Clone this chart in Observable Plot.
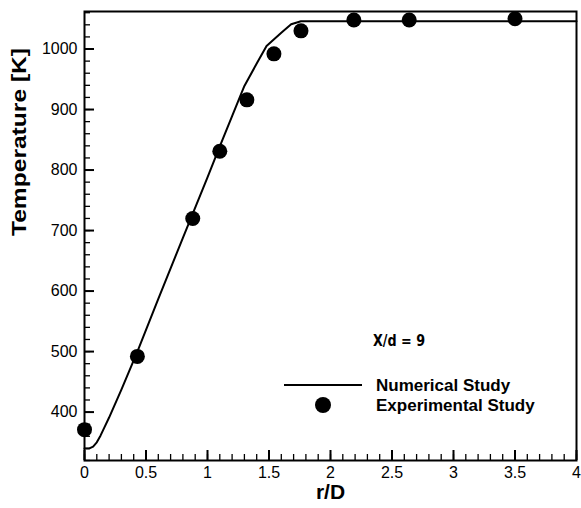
<!DOCTYPE html>
<html>
<head>
<meta charset="utf-8">
<script src="https://cdn.jsdelivr.net/npm/d3@7"></script>
<script src="https://cdn.jsdelivr.net/npm/@observablehq/plot@0.6"></script>
<style>
  html, body { margin: 0; padding: 0; background: #fff; }
  #chart { position: relative; width: 581px; height: 508px; }
</style>
</head>
<body>
<div id="chart"></div>
<script>
// Numerical study (solid line)
const numX = [0, 0.04, 0.07, 0.1, 0.13, 0.16, 0.2, 0.3, 0.43, 0.6, 0.8, 1.0, 1.1, 1.2, 1.3, 1.4, 1.48, 1.6, 1.68, 1.76, 2.0, 3.0, 4.0];
const numY = [340, 340, 343, 350, 361, 374, 391, 437, 500, 587, 688, 788, 839, 889, 939, 976, 1005, 1027, 1041, 1046, 1046, 1046, 1046];
// Experimental study (dots)
const expX = [0, 0.43, 0.88, 1.10, 1.32, 1.54, 1.76, 2.19, 2.64, 3.5];
const expY = [371, 492, 720, 831, 916, 992, 1030, 1048, 1048, 1050];
// Ticks
const xMajor = [0, 0.5, 1, 1.5, 2, 2.5, 3, 3.5, 4];
const xMinor = d3.range(0, 41).map(i => i / 10);
const yMajor = [400, 500, 600, 700, 800, 900, 1000];
const yMinor = d3.range(320, 1061, 20);
const xLabel = "r/D";
const yLabel = "Temperature [K]";
const annotation = "X/d = 9";
const legendLine = "Numerical Study";
const legendDot = "Experimental Study";

const W = 581, H = 508;
const mT = 11, mR = 5, mB = 48, mL = 84;
const pW = W - mL - mR, pH = H - mT - mB;

const numData = numX.map((x, i) => ({x, y: numY[i]}));
const expData = expX.map((x, i) => ({x, y: expY[i]}));

const font = '"Liberation Sans", Arial, Helvetica, sans-serif';

const chart = Plot.plot({
  width: W, height: H,
  marginTop: mT, marginRight: mR, marginBottom: mB, marginLeft: mL,
  style: {fontFamily: font, fontSize: "16px", color: "#000", background: "#fff", overflow: "visible"},
  x: {domain: [0, 4]},
  y: {domain: [320, 1062]},
  marks: [
    Plot.tickY(yMinor, {y: d => d, insetRight: pW - 6, stroke: "#000", strokeWidth: 1.3}),
    Plot.tickY(yMajor, {y: d => d, insetRight: pW - 10, stroke: "#000", strokeWidth: 2}),
    Plot.tickX(xMinor, {x: d => d, insetTop: pH - 6, stroke: "#000", strokeWidth: 1.3}),
    Plot.tickX(xMajor, {x: d => d, insetTop: pH - 10, stroke: "#000", strokeWidth: 2}),
    Plot.axisX({ticks: xMajor, tickSize: 0, tickPadding: 6, tickFormat: d => String(d), label: null, fontSize: 16}),
    Plot.axisY({ticks: yMajor, tickSize: 0, tickPadding: 7, tickFormat: d => String(d), label: null, fontSize: 16}),
    Plot.line(numData, {x: "x", y: "y", stroke: "#000", strokeWidth: 2}),
    Plot.dot(expData, {x: "x", y: "y", r: 7.5, fill: "#000", stroke: "none"}),
    Plot.frame({stroke: "#000", strokeWidth: 2}),
    Plot.text([xLabel], {frameAnchor: "bottom", dy: 24, lineAnchor: "top", fontSize: 21, fontWeight: "bold", fill: "#000"}),
    Plot.text([yLabel], {frameAnchor: "left", dx: -65, rotate: -90, fontSize: 21, fontWeight: "bold", fill: "#000"})
  ]
});
document.getElementById("chart").appendChild(chart);

// stretch y label to match reference proportions
d3.select(chart).selectAll("text").filter(function() { return this.textContent === yLabel; })
  .attr("textLength", 188).attr("lengthAdjust", "spacingAndGlyphs");

// in-plot annotation and legend
const svg = d3.select(chart);
const g = svg.append("g").attr("font-family", font).attr("fill", "#000").attr("text-anchor", "start");
g.append("text").attr("x", 373).attr("y", 346).text(annotation)
  .attr("font-family", '"Liberation Sans Narrow", "DejaVu Sans Condensed", Arial, sans-serif')
  .attr("font-weight", "bold").attr("font-size", 16)
  .attr("textLength", 52).attr("lengthAdjust", "spacingAndGlyphs");
g.append("line").attr("x1", 284).attr("x2", 362).attr("y1", 385).attr("y2", 385)
  .attr("stroke", "#000").attr("stroke-width", 2);
g.append("text").attr("x", 376).attr("y", 391).attr("font-weight", "bold").attr("font-size", 17).text(legendLine);
g.append("circle").attr("cx", 323).attr("cy", 405).attr("r", 8).attr("fill", "#000");
g.append("text").attr("x", 376).attr("y", 411).attr("font-weight", "bold").attr("font-size", 17).text(legendDot);
</script>
</body>
</html>
